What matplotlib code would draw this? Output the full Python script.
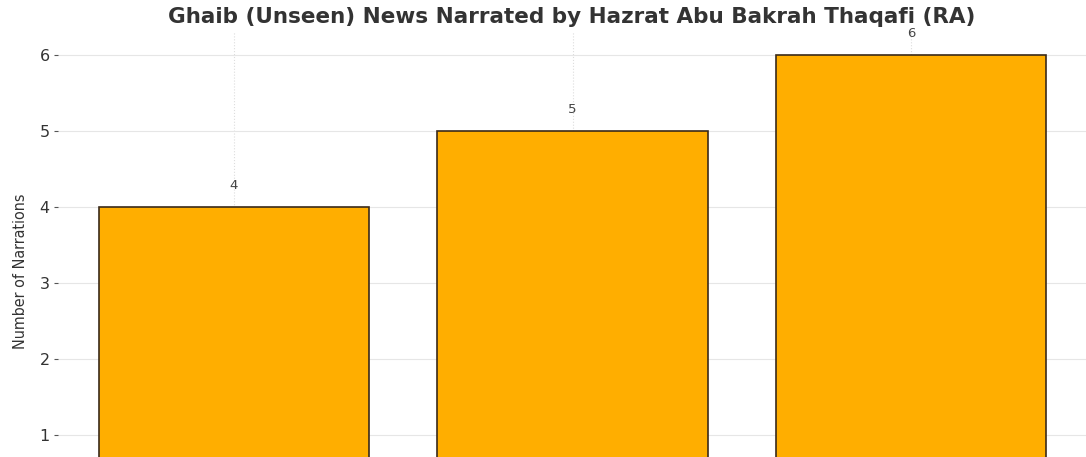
import matplotlib
matplotlib.use("Agg")
import matplotlib.pyplot as plt

plt.rcParams["font.family"] = ["DejaVu Sans"]

categories = ["Category A", "Category B", "Category C"]
values = [4, 5, 6]
yticks = [1, 2, 3, 4, 5, 6]

W, H, DPI = 1086, 457, 100
fig = plt.figure(figsize=(W / DPI, H / DPI), dpi=DPI)
fig.patch.set_facecolor("white")

# axes extends below the visible figure (reference is cropped)
left_px, right_px, top_px, bottom_px = 58, 1087, 32, 511
ax = fig.add_axes([left_px / W, 1 - bottom_px / H,
                   (right_px - left_px) / W, (bottom_px - top_px) / H])

x = list(range(len(categories)))
ax.bar(x, values, width=0.8, color="#FFAE00", edgecolor="#3a2a1a", linewidth=1.2, zorder=2)
for xi, v in zip(x, values):
    ax.text(xi, v + 0.2, str(v), ha="center", va="bottom", fontsize=9.5, color="#444444", zorder=3)

ax.set_xlim(-0.52, 2.52)
ax.set_ylim(0, 6.3)
ax.set_yticks(yticks)
ax.set_xticks(x)
ax.set_xticklabels(categories)
for s in ax.spines.values():
    s.set_visible(False)

ax.yaxis.grid(True, color="#e6e6e6", linewidth=0.8, zorder=0)
ax.xaxis.grid(True, color="#dddddd", linewidth=0.8, linestyle=":", zorder=0)
ax.set_axisbelow(True)
ax.tick_params(axis="y", length=3, width=0.8, color="#555555", labelsize=11.5, labelcolor="#333333", pad=3)
ax.tick_params(axis="x", length=0, labelbottom=False)

ax.set_ylabel("Number of Narrations", fontsize=11.5, color="#333333", fontstretch="condensed", labelpad=8)

fig.text(572 / W, 1 - 17 / H, "Ghaib (Unseen) News Narrated by Hazrat Abu Bakrah Thaqafi (RA)",
         ha="center", va="center", fontsize=15.5, fontweight="bold", color="#333333")

fig.savefig("out.png", dpi=DPI)
